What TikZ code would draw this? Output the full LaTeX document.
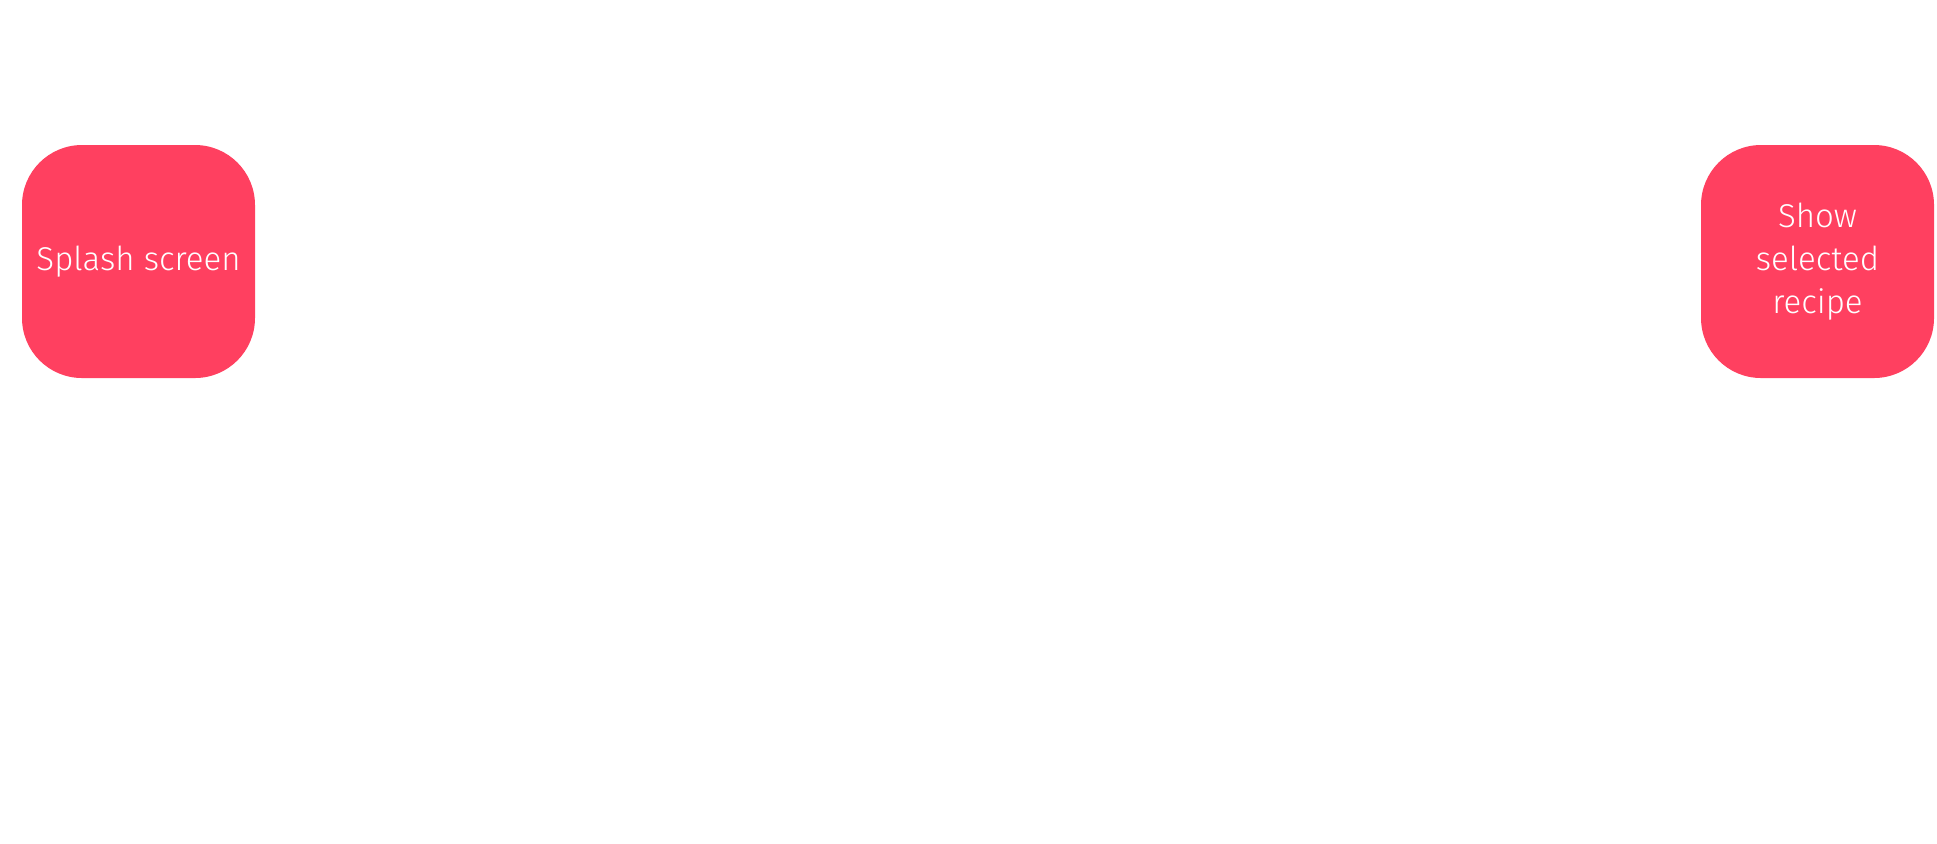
\documentclass[tikz,border=0pt]{standalone}
\usepackage{fontspec}
\setsansfont{Fira Sans Light}
\usepackage{tikz}

\definecolor{screenred}{RGB}{255,64,96}

\tikzset{
  screen/.style={rectangle, rounded corners=30pt, fill=screenred, draw=none,
    minimum width=116.5pt, minimum height=116.5pt, inner sep=0pt,
    text=white, align=center, font=\sffamily\fontsize{16.5}{21.5}\selectfont}
}

\begin{document}
\begin{tikzpicture}[x=0.5pt,y=-0.5pt]
\useasboundingbox (0,0) rectangle (1937,843);
\node [screen] (splash) at (138.5,261.5) {Splash screen};
\node [screen] (recipe) at (1817.5,261.5) {Show\\selected\\recipe};
\end{tikzpicture}
\end{document}
